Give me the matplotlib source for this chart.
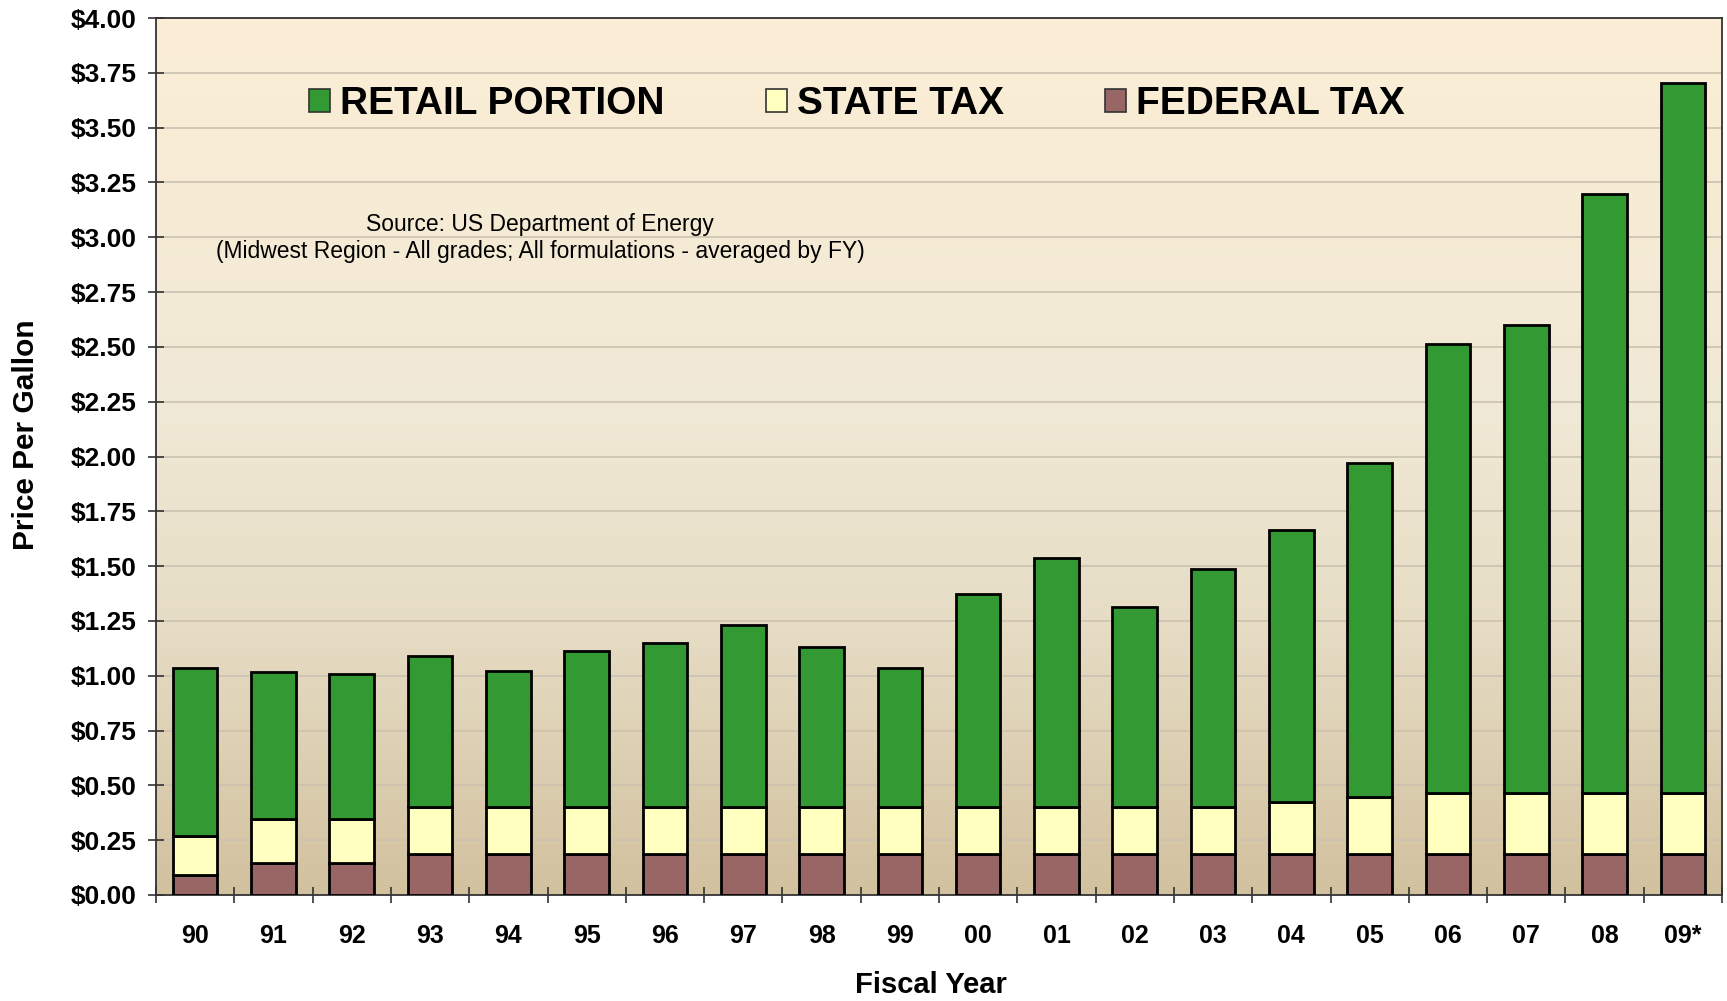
import numpy as np
import matplotlib
matplotlib.use('Agg')
import matplotlib.pyplot as plt
from matplotlib.colors import LinearSegmentedColormap
from matplotlib.patches import Patch
from matplotlib.ticker import FixedLocator, FuncFormatter

plt.rcParams['font.family'] = ['Liberation Sans', 'DejaVu Sans']

years = ['90', '91', '92', '93', '94', '95', '96', '97', '98', '99',
         '00', '01', '02', '03', '04', '05', '06', '07', '08', '09*']
federal_tax = [0.09, 0.145, 0.145, 0.185, 0.185, 0.185, 0.185, 0.185, 0.185, 0.185,
               0.185, 0.185, 0.185, 0.185, 0.185, 0.185, 0.185, 0.185, 0.185, 0.185]
state_tax = [0.18, 0.20, 0.20, 0.215, 0.215, 0.215, 0.215, 0.215, 0.215, 0.215,
             0.215, 0.215, 0.215, 0.215, 0.24, 0.26, 0.28, 0.28, 0.28, 0.28]
retail_portion = [0.765, 0.672, 0.665, 0.688, 0.623, 0.713, 0.748, 0.833, 0.730, 0.635,
                  0.971, 1.139, 0.914, 1.085, 1.240, 1.527, 2.048, 2.133, 2.732, 3.237]

green = '#339933'
cream = '#FFFFC0'
brown = '#996666'

fig = plt.figure(figsize=(17.27, 10.01), dpi=100)
ax = fig.add_axes([156 / 1727, 1 - 895 / 1001, (1722 - 156) / 1727, (895 - 18) / 1001])

# background gradient of the plot area
grad_cmap = LinearSegmentedColormap.from_list(
    'bg', [(0.0, '#D2C19F'), (0.3, '#E6DCC4'), (0.55, '#F0E9D5'), (1.0, '#FCEED5')])
ax.imshow(np.linspace(0, 1, 256).reshape(-1, 1), cmap=grad_cmap, origin='lower',
          aspect='auto', extent=[0, 1, 0, 1], transform=ax.transAxes, zorder=0)

x = np.arange(len(years))
fed = np.array(federal_tax)
st = np.array(state_tax)
ret = np.array(retail_portion)
w = 0.57
kw = dict(width=w, edgecolor='black', linewidth=2.0, zorder=3)
ax.bar(x, fed, color=brown, **kw)
ax.bar(x, st, bottom=fed, color=cream, **kw)
ax.bar(x, ret, bottom=fed + st, color=green, **kw)

ax.set_xlim(-0.5, len(years) - 0.5)
ax.set_ylim(0, 4.0)
ax.set_yticks(np.arange(0, 4.01, 0.25))
ax.yaxis.set_major_formatter(FuncFormatter(lambda v, p: '${:.2f}'.format(v)))
ax.grid(axis='y', color='#CBC2B0', linewidth=1.2, zorder=1)
ax.set_axisbelow(True)

ax.set_xticks(x)
ax.set_xticklabels(years)
ax.xaxis.set_minor_locator(FixedLocator(np.arange(-0.5, len(years), 1.0)))
ax.tick_params(axis='x', which='major', length=0, pad=21, labelsize=18)
ax.tick_params(axis='x', which='minor', direction='inout', length=12, width=1.2, color='#333333')
ax.tick_params(axis='y', direction='inout', length=12, width=1.2, color='#333333',
               pad=8, labelsize=19)
for lab in ax.get_xticklabels() + ax.get_yticklabels():
    lab.set_fontweight('bold')

for s in ax.spines.values():
    s.set_color('#333333')
    s.set_linewidth(1.3)

fig.text(26 / 1727, 1 - 435 / 1001, 'Price Per Gallon', fontsize=21.5, fontweight='bold',
         rotation=90, ha='center', va='center')
fig.text(931 / 1727, 1 - 985 / 1001, 'Fiscal Year', fontsize=21, fontweight='bold',
         ha='center', va='center')

ax.text(540 / 1727, 1 - 225 / 1001, 'Source: US Department of Energy', fontsize=16.5,
        ha='center', va='center', transform=fig.transFigure, zorder=5)
ax.text(540 / 1727, 1 - 251 / 1001,
        '(Midwest Region - All grades; All formulations - averaged by FY)', fontsize=16.5,
        ha='center', va='center', transform=fig.transFigure, zorder=5)

handles = [Patch(facecolor=green, edgecolor='#333333', linewidth=1.2),
           Patch(facecolor=cream, edgecolor='#333333', linewidth=1.2),
           Patch(facecolor=brown, edgecolor='#333333', linewidth=1.2)]
fig.legend(handles, ['RETAIL PORTION', 'STATE TAX', 'FEDERAL TAX'], ncol=3,
           loc='center left', bbox_to_anchor=(309 / 1727, 1 - 104 / 1001),
           frameon=False, borderpad=0, borderaxespad=0,
           handlelength=0.55, handleheight=0.55, handletextpad=0.25,
           columnspacing=2.6, prop={'size': 28, 'weight': 'bold'})

fig.savefig('out.png', dpi=100)
